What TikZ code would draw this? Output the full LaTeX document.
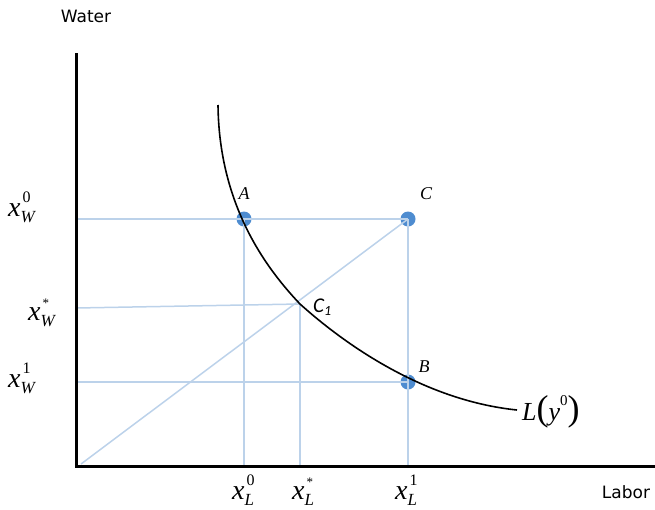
\documentclass[tikz,border=0pt]{standalone}
\usepackage{fontspec}
\setmainfont{Liberation Serif}
\newfontfamily\labsans{DejaVu Sans}
\newfontfamily\carl{Carlito}
\definecolor{dotblue}{HTML}{4E8CD0}
\definecolor{guideblue}{HTML}{BCD2EA}
\newcommand\xlab[3]{\textit{x}\rlap{\kern2pt\raisebox{#3}{\fontsize{16}{16}\selectfont #1}}\raisebox{-6pt}{\fontsize{17}{17}\selectfont\itshape #2}}
\newcommand\starsup{\fontsize{13}{13}\selectfont *}
\begin{document}
\begin{tikzpicture}[x=1pt,y=-1pt,
  guide/.style={guideblue, line width=1.5pt},
  axis/.style={black, line width=3pt, line join=miter},
  curve/.style={black, line width=1.6pt},
  dot/.style={circle, fill=dotblue, minimum size=15pt, inner sep=0pt},
  xl/.style={font=\fontsize{28}{28}\selectfont, inner sep=0pt, anchor=base west},
  ptlab/.style={font=\fontsize{18}{18}\selectfont\itshape, inner sep=0pt},
  axlab/.style={font=\labsans\fontsize{17}{17}\selectfont, inner sep=0pt}]
\useasboundingbox (0,0) rectangle (655,509);
\coordinate (O) at (76,466);
\coordinate (Ytop) at (76,53);
\coordinate (Xend) at (655,466);
\coordinate (C1) at (300,304);
\coordinate (Ws) at (76,308);
\coordinate (D0) at (81,464);
\coordinate (Ctop) at (218,105);
\coordinate (Cend) at (517,410);
\node[dot] (A) at (244,219) {};
\node[dot] (C) at (408,219) {};
\node[dot] (B) at (408,382) {};
% guide lines
\draw[guide] (O |- A.center) -- (C.center);
\draw[guide] (Ws) -- (C1);
\draw[guide] (O |- B.center) -- (B.center);
\draw[guide] (A.center) -- (A.center |- O);
\draw[guide] (C1) -- (C1 |- O);
\draw[guide] (C.center) -- (C.center |- O);
\draw[guide] (D0) -- (C.center);
% isoquant
\draw[curve] (Ctop) .. controls (219,200) and (261,263) .. (C1)
  .. controls (340,340) and (420,400) .. (Cend);
% axes
\draw[axis] (Ytop) -- (O) -- (Xend);
% axis titles
\node[axlab] (water) at (86,16) {Water};
\node[axlab] (labor) at (626,492) {Labor};
% point labels
\node[ptlab] (lA) at (244,194) {A};
\node[ptlab] (lC) at (426,194) {C};
\node[ptlab] (lB) at (424,367) {B};
\node[font=\carl\itshape\fontsize{21}{21}\selectfont, inner sep=0pt, anchor=base west] (lC1) at (313,312) {C\raisebox{-3pt}{\fontsize{14}{14}\selectfont 1}};
% axis value labels
\node[xl] (xW0) at (8,216) {\xlab{0}{W}{14pt}};
\node[xl] (xWs) at (28,320) {\xlab{\starsup}{W}{13pt}};
\node[xl] (xW1) at (8,387) {\xlab{1}{W}{14pt}};
\node[xl] (xL0) at (232,499) {\xlab{0}{L}{14pt}};
\node[xl] (xLs) at (292,499) {\xlab{\starsup}{L}{13pt}};
\node[xl] (xL1) at (395,499) {\xlab{1}{L}{14pt}};
% isoquant label
\node[inner sep=0pt, anchor=base west, font=\fontsize{26}{26}\selectfont] (Ly) at (522,420) {\textit{L}{\fontsize{36}{36}\selectfont(}\textit{y}\raisebox{15pt}{\fontsize{15}{15}\selectfont 0}{\fontsize{36}{36}\selectfont)}};
\end{tikzpicture}
\end{document}
